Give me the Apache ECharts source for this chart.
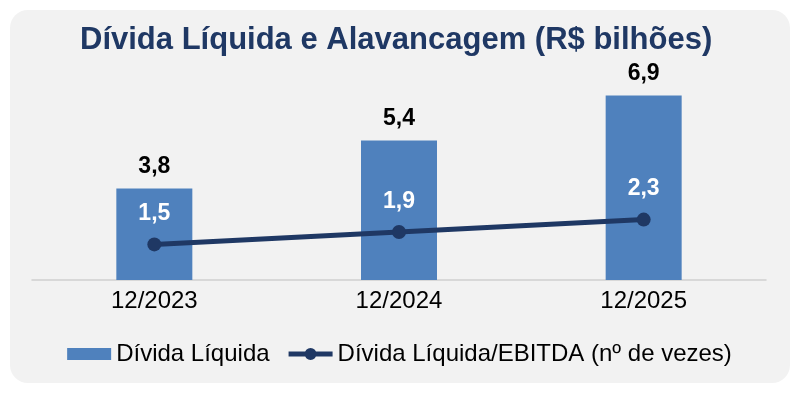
<!DOCTYPE html>
<html>
<head>
<meta charset="utf-8">
<script src="https://cdn.jsdelivr.net/npm/echarts@6/dist/echarts.min.js"></script>
<style>
html,body{margin:0;padding:0;background:#ffffff;}
#chart{width:799px;height:393px;}
</style>
</head>
<body>
<div id="chart"></div>
<script>
var categories = ['12/2023', '12/2024', '12/2025'];
var netDebt = [3.8, 5.4, 6.9];
var leverage = [1.5, 1.9, 2.3];
var seriesNames = ['Dívida Líquida', 'Dívida Líquida/EBITDA (nº de vezes)'];
var titleText = 'Dívida Líquida e Alavancagem (R$ bilhões)';

var FONT = '"Liberation Sans", Arial, sans-serif';
var fmt = function (p) { return p.value.toFixed(1).replace('.', ','); };
var lineIcon = 'path://M0,3.5 L44,3.5 L44,8.5 L0,8.5 Z M16,6 A6,6 0 1,1 28,6 A6,6 0 1,1 16,6 Z';

var chart = echarts.init(document.getElementById('chart'), null, {renderer: 'canvas'});
chart.setOption({
  animation: false,
  backgroundColor: 'transparent',
  graphic: [{
    type: 'rect', z: -10, silent: true,
    shape: {x: 10, y: 10, width: 780, height: 373, r: 18},
    style: {fill: '#F2F2F2'}
  }],
  title: {
    text: titleText,
    left: 75, top: 20,
    textStyle: {fontFamily: FONT, fontSize: 31, fontWeight: 'bold', color: '#1F3864'}
  },
  legend: {
    top: 337, left: 'center',
    itemWidth: 44, itemHeight: 12, itemGap: 19,
    textStyle: {fontFamily: FONT, fontSize: 24, color: '#000000'},
    data: [
      {name: seriesNames[0], icon: 'rect'},
      {name: seriesNames[1], icon: lineIcon, itemStyle: {color: '#1F3864'}}
    ]
  },
  grid: {left: 32, right: 33, top: 40, bottom: 113},
  xAxis: {
    type: 'category', data: categories,
    axisLine: {lineStyle: {color: '#D0D0D0', width: 1.5}},
    axisTick: {show: false},
    axisLabel: {fontFamily: FONT, fontSize: 24, color: '#000000', margin: 9}
  },
  yAxis: [
    {type: 'value', min: 0.75, max: 8.75, show: false, splitLine: {show: false}},
    {type: 'value', min: 0.35, max: 8.1, show: false, splitLine: {show: false}}
  ],
  series: [
    {
      name: seriesNames[0], type: 'bar', yAxisIndex: 0, data: netDebt,
      barWidth: 76,
      itemStyle: {color: '#4F81BD'},
      label: {show: true, position: 'top', distance: 10, formatter: fmt,
        fontFamily: FONT, fontSize: 23, fontWeight: 'bold', color: '#000000'}
    },
    {
      name: seriesNames[1], type: 'line', yAxisIndex: 1, data: leverage,
      symbol: 'circle', symbolSize: 14,
      lineStyle: {color: '#1F3864', width: 5},
      itemStyle: {color: '#1F3864'},
      label: {show: true, position: 'top', distance: 12, formatter: fmt,
        fontFamily: FONT, fontSize: 23, fontWeight: 'bold', color: '#FFFFFF'}
    }
  ]
});
</script>
</body>
</html>
